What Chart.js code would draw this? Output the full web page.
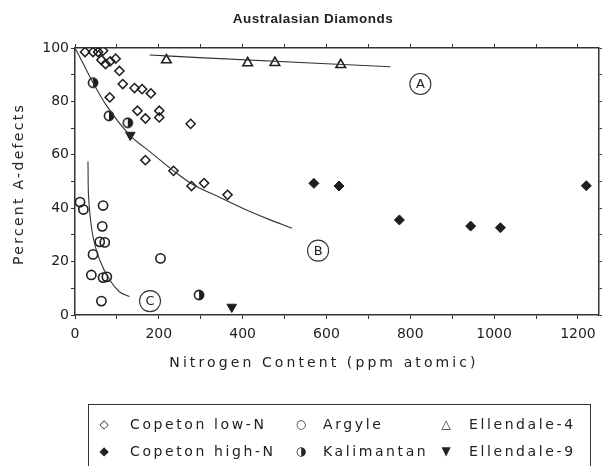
<!DOCTYPE html>
<html>
<head>
<meta charset="utf-8">
<script src="https://cdn.jsdelivr.net/npm/chart.js@4.4.1/dist/chart.umd.min.js"></script>
<style>
  html, body { margin: 0; padding: 0; background: #fff; }
  #wrap { position: relative; width: 606px; height: 466px; overflow: hidden; background: #fff; }
  #c { position: absolute; left: 0; top: 0; }
  .txt { position: absolute; font-family: "DejaVu Sans", sans-serif; color: #222; white-space: nowrap; }
  #title { left: 313px; top: 11px; transform: translateX(-50%); font-family: "Liberation Sans", sans-serif; font-weight: bold; font-size: 13.5px; letter-spacing: 0.5px; }
  #xtitle { left: 324px; top: 354px; transform: translateX(-50%); font-size: 14px; letter-spacing: 3.1px; }
  #ytitle { left: 18px; top: 184px; transform: translate(-50%, -50%) rotate(-90deg); font-size: 14px; letter-spacing: 2.3px; }
  #legend { position: absolute; left: 88px; top: 404px; width: 503px; height: 80px; border: 1.5px solid #333; border-bottom: none; box-sizing: border-box; }
  .lm { position: absolute; font-family: "DejaVu Sans", sans-serif; font-size: 12px; color: #222; transform: translate(-50%, -50%); line-height: 1; }
  .lt { position: absolute; font-family: "DejaVu Sans", sans-serif; font-size: 14px; letter-spacing: 2.6px; color: #222; transform: translateY(-50%); line-height: 1; white-space: nowrap; }
</style>
</head>
<body>
<div id="wrap">
  <canvas id="c" width="606" height="466"></canvas>
  <div id="title" class="txt">Australasian Diamonds</div>
  <div id="xtitle" class="txt">Nitrogen Content (ppm atomic)</div>
  <div id="ytitle" class="txt">Percent A-defects</div>
  <div id="legend"></div>
</div>
<script>
// ---- data ----
const copetonLowX  = [24, 43, 55, 67, 63, 73, 84, 97, 106, 114, 142, 160, 181, 83, 149, 168, 201, 201, 276, 168, 235, 278, 308, 364];
const copetonLowY  = [98.5, 98.5, 98.5, 99, 95.5, 94, 95, 96, 91.4, 86.5, 85, 84.6, 83, 81.5, 76.5, 73.6, 76.5, 74, 71.6, 58, 54, 48.3, 49.4, 45];
const copetonHighX = [570, 630, 774, 944, 1015, 1220];
const copetonHighY = [49.3, 48.3, 35.6, 33.3, 32.7, 48.4];
const argyleX      = [12, 20, 67, 65, 59, 71, 43, 39, 67, 76, 63, 204];
const argyleY      = [42.3, 39.5, 41, 33.2, 27.4, 27.2, 22.7, 15, 14, 14.3, 5.2, 21.2];
const kalimantanX  = [43, 81, 126, 296];
const kalimantanY  = [87, 74.6, 72, 7.5];
const ellendale4X  = [218, 412, 477, 634];
const ellendale4Y  = [95.5, 94.4, 94.5, 93.7];
const ellendale9X  = [132, 374];
const ellendale9Y  = [67.4, 3];
const curveAX = [178, 296, 753];
const curveAY = [97.4, 96.4, 93];
const curveBX = [0, 20, 43, 75, 130, 180, 235, 280, 340, 400, 460, 518];
const curveBY = [100, 94, 87, 78.5, 67.5, 61, 54, 49, 44.5, 40, 36, 32.5];
const curveCX = [31, 31.5, 33, 35.5, 43, 59, 83, 106, 130];
const curveCY = [57.5, 49, 43, 38, 29.3, 20.6, 13.1, 8.7, 6.9];
const curveLabels = ['A', 'B', 'C'];
const curveLabelX = [824, 580, 179];
const curveLabelY = [86.5, 24.1, 5.2];
const xTickValues = [0, 200, 400, 600, 800, 1000, 1200];
const yTickValues = [0, 20, 40, 60, 80, 100];
const legendNames = ['Copeton low-N', 'Argyle', 'Ellendale-4', 'Copeton high-N', 'Kalimantan', 'Ellendale-9'];
const legendGlyphs = ['\u25C7', '\u25CB', '\u25B3', '\u25C6', '\u25D1', '\u25BC'];

const INK = '#1e1e1e';
const FONT = '"DejaVu Sans", sans-serif';

function pts(xs, ys) { return xs.map((x, i) => ({ x: x, y: ys[i] })); }

function halfCircle(r) {
  const s = Math.ceil(2 * r + 4);
  const c = document.createElement('canvas');
  c.width = s; c.height = s;
  const g = c.getContext('2d');
  g.beginPath();
  g.arc(s / 2, s / 2, r, -Math.PI / 2, Math.PI / 2);
  g.closePath();
  g.fillStyle = INK; g.fill();
  g.beginPath();
  g.arc(s / 2, s / 2, r, 0, 2 * Math.PI);
  g.lineWidth = 1.6; g.strokeStyle = INK; g.stroke();
  return c;
}

function curve(xs, ys) {
  return { data: pts(xs, ys), showLine: true, pointRadius: 0, borderColor: '#333', borderWidth: 1.1,
           cubicInterpolationMode: 'monotone', fill: false };
}

const letterPlugin = {
  id: 'letters',
  afterDatasetsDraw(chart) {
    const { ctx, scales } = chart;
    ctx.save();
    ctx.strokeStyle = '#333'; ctx.lineWidth = 1.1; ctx.fillStyle = INK;
    ctx.font = '13px ' + FONT; ctx.textAlign = 'center'; ctx.textBaseline = 'middle';
    curveLabels.forEach((t, i) => {
      const px = scales.x.getPixelForValue(curveLabelX[i]);
      const py = scales.y.getPixelForValue(curveLabelY[i]);
      ctx.beginPath(); ctx.arc(px, py, 10.5, 0, 2 * Math.PI); ctx.stroke();
      ctx.fillText(t, px, py + 0.5);
    });
    ctx.restore();
  }
};

const tickFont = { family: FONT, size: 14 };
const gridCommon = { drawOnChartArea: false, drawTicks: true, tickLength: 4, color: '#333', lineWidth: 1 };
const borderCommon = { color: '#333', width: 1.5 };

new Chart(document.getElementById('c'), {
  type: 'scatter',
  data: {
    datasets: [
      curve(curveAX, curveAY),
      curve(curveBX, curveBY),
      curve(curveCX, curveCY),
      { data: pts(copetonLowX, copetonLowY), pointStyle: 'rectRot', pointRadius: 4.6, borderWidth: 1.5,
        borderColor: INK, backgroundColor: 'rgba(255,255,255,0)' },
      { data: pts(copetonHighX, copetonHighY), pointStyle: 'rectRot', pointRadius: 5, borderWidth: 1,
        borderColor: INK, backgroundColor: INK },
      { data: pts(argyleX, argyleY), pointStyle: 'circle', pointRadius: 4.6, borderWidth: 1.6,
        borderColor: INK, backgroundColor: 'rgba(255,255,255,0)' },
      { data: pts(kalimantanX, kalimantanY), pointStyle: halfCircle(4.6), pointRadius: 5 },
      { data: pts(ellendale4X, ellendale4Y), pointStyle: 'triangle', pointRadius: 5.5, borderWidth: 1.6,
        borderColor: INK, backgroundColor: 'rgba(255,255,255,0)' },
      { data: pts(ellendale9X, ellendale9Y), pointStyle: 'triangle', pointRadius: 5.5, pointRotation: 180,
        borderWidth: 1, borderColor: INK, backgroundColor: INK }
    ]
  },
  options: {
    responsive: false, animation: false,
    layout: { padding: 0 },
    plugins: { legend: { display: false }, title: { display: false }, tooltip: { enabled: false } },
    scales: {
      x: {
        type: 'linear', position: 'bottom', min: 0, max: 1250,
        afterFit: s => { s.height = 151; },
        ticks: { stepSize: 100, includeBounds: false, autoSkip: false, maxRotation: 0, padding: 7, color: INK, font: tickFont,
                 callback: v => xTickValues.includes(v) ? String(v) : '' },
        grid: gridCommon, border: borderCommon
      },
      x2: {
        type: 'linear', position: 'top', min: 0, max: 1250,
        afterFit: s => { s.height = 48; },
        ticks: { stepSize: 100, includeBounds: false, autoSkip: false, maxRotation: 0, callback: () => '' },
        grid: gridCommon, border: borderCommon
      },
      y: {
        type: 'linear', position: 'left', min: 0, max: 100,
        afterFit: s => { s.width = 75; },
        ticks: { stepSize: 10, autoSkip: false, padding: 2, color: INK, font: tickFont,
                 callback: v => yTickValues.includes(v) ? String(v) : '' },
        grid: gridCommon, border: borderCommon
      },
      y2: {
        type: 'linear', position: 'right', min: 0, max: 100,
        afterFit: s => { s.width = 3; },
        ticks: { stepSize: 10, autoSkip: false, callback: () => '' },
        grid: Object.assign({}, gridCommon, { tickLength: 3 }), border: borderCommon
      }
    }
  },
  plugins: [letterPlugin]
});

// ---- legend (HTML text) ----
const legend = document.getElementById('legend');
const colMarkX = [15, 212, 357];   // relative to legend box left (88)
const colTextX = [41, 234, 380];
const rowY = [19, 46];
legendNames.forEach((name, i) => {
  const col = i % 3, row = Math.floor(i / 3);
  const m = document.createElement('div');
  m.className = 'lm'; m.textContent = legendGlyphs[i];
  m.style.left = colMarkX[col] + 'px'; m.style.top = rowY[row] + 'px';
  legend.appendChild(m);
  const t = document.createElement('div');
  t.className = 'lt'; t.textContent = name;
  t.style.left = colTextX[col] + 'px'; t.style.top = rowY[row] + 'px';
  legend.appendChild(t);
});
</script>
</body>
</html>
